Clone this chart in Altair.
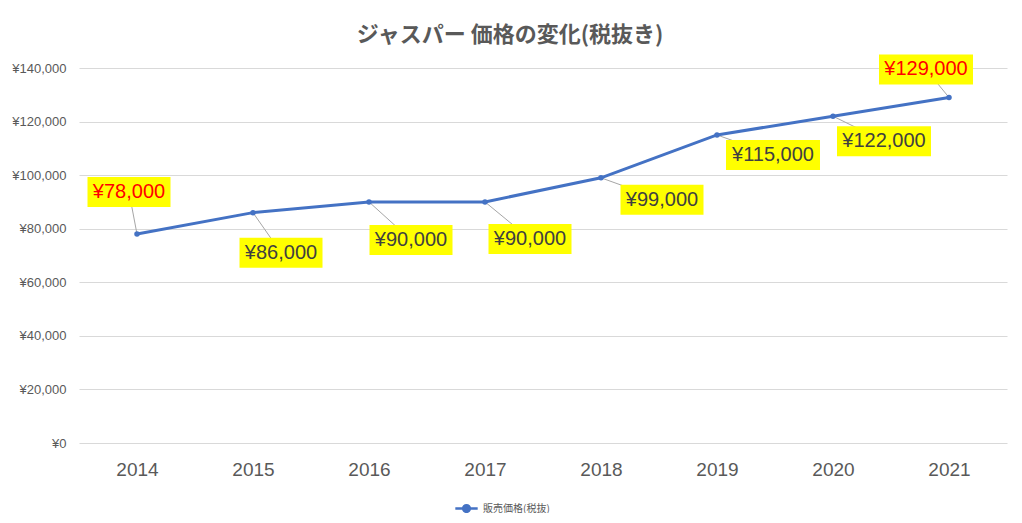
import altair as alt
import pandas as pd

# ---- data ----
years = [2014, 2015, 2016, 2017, 2018, 2019, 2020, 2021]
prices = [78000, 86000, 90000, 90000, 99000, 115000, 122000, 129000]
label_texts = ["¥78,000", "¥86,000", "¥90,000", "¥90,000", "¥99,000", "¥115,000", "¥122,000", "¥129,000"]
label_colors = ["#FF0000", "#404040", "#404040", "#404040", "#404040", "#404040", "#404040", "#FF0000"]
# label placement (pixel offsets from the point: right / down)
label_dx = [-8, 28, 42, 45, 61, 56, 51, -23]
label_dy = [-42, 40, 38, 37, 22, 20, 25, -28]
y_ticks = [0, 20000, 40000, 60000, 80000, 100000, 120000, 140000]
series_name = "販売価格(税抜)"
title_text = "ジャスパー 価格の変化(税抜き)"

W, H = 928, 375
X_MIN, X_MAX = 2013.5, 2021.5
Y_MAX = 140000
PX_X = W / (X_MAX - X_MIN)
PX_Y = H / Y_MAX

rows = []
for yr, p, t, c, dx, dy in zip(years, prices, label_texts, label_colors, label_dx, label_dy):
    lx = yr + dx / PX_X
    ly = p - dy / PX_Y
    half_w = (len(t) * 11.0 + 6) / 2 / PX_X
    half_h = 15 / PX_Y
    rows.append(dict(year=yr, price=p, text=t, color=c, lx=lx, ly=ly,
                     bx1=lx - half_w, bx2=lx + half_w, by1=ly - half_h, by2=ly + half_h,
                     series=series_name))
df = pd.DataFrame(rows)

FONT = "Noto Sans CJK JP"
NUMFONT = "Liberation Sans"

xscale = alt.Scale(domain=[X_MIN, X_MAX], nice=False, zero=False)
yscale = alt.Scale(domain=[0, Y_MAX], nice=False)

x_axis = alt.Axis(values=years, format="d", title=None, grid=False, domain=False, ticks=False,
                  labelFontSize=19, labelColor="#595959", labelPadding=17, labelFont=NUMFONT)
y_axis = alt.Axis(values=y_ticks, title=None, grid=True, gridColor="#D9D9D9", gridWidth=1,
                  domain=False, ticks=False, labelFontSize=13, labelColor="#595959",
                  labelPadding=13, labelFont=NUMFONT,
                  labelExpr="'¥' + format(datum.value, ',')")

base = alt.Chart(df)

leaders = base.mark_rule(color="#A6A6A6", strokeWidth=1).encode(
    x=alt.X("year:Q", scale=xscale, axis=x_axis),
    y=alt.Y("price:Q", scale=yscale, axis=y_axis),
    x2="lx:Q",
    y2="ly:Q",
)

line = base.mark_line(strokeWidth=3).encode(
    x=alt.X("year:Q", scale=xscale),
    y=alt.Y("price:Q", scale=yscale),
    color=alt.Color("series:N", scale=alt.Scale(range=["#4472C4"]),
                    legend=alt.Legend(orient="none", legendX=375, legendY=428, title=None,
                                      symbolType="M-1,0L1,0M-0.3,0A0.3,0.3 0 1,0 0.3,0A0.3,0.3 0 1,0 -0.3,0",
                                      symbolSize=500, symbolStrokeWidth=2.5,
                                      symbolFillColor="#4472C4", symbolStrokeColor="#4472C4",
                                      labelFontSize=10, labelColor="#595959", labelFont=FONT)),
)

points = base.mark_point(filled=True, size=30, color="#4472C4", opacity=1).encode(
    x=alt.X("year:Q", scale=xscale),
    y=alt.Y("price:Q", scale=yscale),
)

boxes = base.mark_rect(color="#FFFF00").encode(
    x=alt.X("bx1:Q", scale=xscale),
    x2="bx2:Q",
    y=alt.Y("by1:Q", scale=yscale),
    y2="by2:Q",
)

texts = base.mark_text(fontSize=20, font=NUMFONT, align="center", baseline="middle").encode(
    x=alt.X("lx:Q", scale=xscale),
    y=alt.Y("ly:Q", scale=yscale),
    text="text:N",
    color=alt.Color("color:N", scale=None),
)

chart = alt.layer(leaders, line, points, boxes, texts).properties(
    width=W, height=H,
    title=alt.TitleParams(title_text, font=FONT, fontSize=22, fontWeight="bold",
                          color="#595959", anchor="middle", dx=-33, offset=7),
    autosize=alt.AutoSizeParams(type="none"),
    padding={"left": 71, "top": 60, "right": 7, "bottom": 70},
).configure(background="white").configure_view(stroke=None, strokeWidth=0)

chart.save("out.html", embed_options={"renderer": "svg", "actions": False})
